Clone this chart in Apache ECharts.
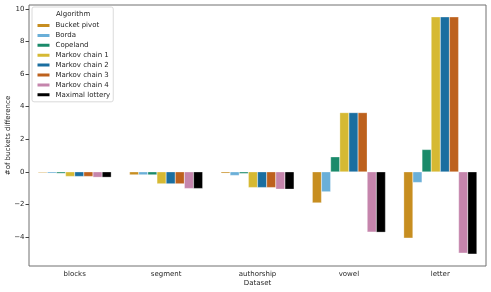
<!DOCTYPE html>
<html><head><meta charset="utf-8">
<script src="https://cdn.jsdelivr.net/npm/echarts@6/dist/echarts.min.js"></script>
<style>html,body{margin:0;padding:0;background:#fff}#c{width:491px;height:292px}</style>
</head><body><div id="c"></div>
<script>
const categories = ['blocks', 'segment', 'authorship', 'vowel', 'letter'];
const seriesNames = ['Bucket pivot', 'Borda', 'Copeland', 'Markov chain 1', 'Markov chain 2', 'Markov chain 3', 'Markov chain 4', 'Maximal lottery'];
const bucketPivot = [-0.05, -0.18, -0.08, -1.9, -4.06];
const borda = [-0.08, -0.18, -0.22, -1.22, -0.65];
const copeland = [-0.09, -0.18, -0.1, 0.92, 1.37];
const markov1 = [-0.28, -0.73, -0.96, 3.63, 9.5];
const markov2 = [-0.28, -0.73, -0.96, 3.63, 9.5];
const markov3 = [-0.28, -0.73, -0.96, 3.63, 9.5];
const markov4 = [-0.33, -1.02, -1.06, -3.69, -4.98];
const maximalLottery = [-0.33, -1.02, -1.06, -3.7, -5.04];
const yTicks = [-4, -2, 0, 2, 4, 6, 8, 10];
const colors = ['#c78e20', '#6aafd8', '#1a8a6a', '#d6b933', '#1a6ea0', '#bd611d', '#c585ac', '#000000'];
const allValues = [bucketPivot, borda, copeland, markov1, markov2, markov3, markov4, maximalLottery];

const font = 'DejaVu Sans';
const txt = '#262626';
const chart = echarts.init(document.getElementById('c'), null, {renderer: 'canvas'});
chart.setOption({
  animation: false,
  color: colors,
  grid: {left: 29, right: 5, top: 5, bottom: 26, containLabel: false, outerBoundsMode: 'none',
    show: true, borderColor: '#707070', borderWidth: 1, backgroundColor: 'transparent'},
  xAxis: {
    type: 'category', data: categories,
    axisLine: {show: false},
    axisTick: {alignWithLabel: true, length: 3.5, lineStyle: {color: '#444'}},
    axisLabel: {fontFamily: font, fontSize: 7, color: txt, margin: 4.5},
    name: 'Dataset', nameLocation: 'middle', nameGap: 13.5, nameMoveOverlap: false,
    nameTextStyle: {fontFamily: font, fontSize: 7, color: txt}
  },
  yAxis: {
    type: 'value', min: -5.77, max: 10.23,
    axisLine: {show: false},
    splitLine: {show: false},
    axisTick: {show: true, length: 3.5, customValues: yTicks, lineStyle: {color: '#444'}},
    axisLabel: {fontFamily: font, fontSize: 7, color: txt, margin: 4.5, customValues: yTicks,
      formatter: v => String(v).replace('-', '\u2212')},
    name: '#of buckets difference', nameLocation: 'middle', nameGap: 17, nameMoveOverlap: false,
    nameTextStyle: {fontFamily: font, fontSize: 7, color: txt}
  },
  legend: {
    orient: 'vertical', left: 32, top: 7,
    data: seriesNames,
    icon: 'rect', itemWidth: 14, itemHeight: 5, itemGap: 1.9,
    padding: [14.5, 3, 3, 3.5],
    backgroundColor: '#fff', borderColor: '#d0d0d0', borderWidth: 0.8, borderRadius: 2,
    textStyle: {fontFamily: font, fontSize: 7, color: txt, lineHeight: 8}
  },
  graphic: [{
    type: 'text', left: 56, top: 10.5, z: 100,
    style: {text: 'Algorithm', fontFamily: font, fontSize: 7, fill: txt}
  }],
  series: seriesNames.map((n, i) => ({
    name: n, type: 'bar', data: allValues[i],
    barWidth: '10%', barGap: '0%', barCategoryGap: '20%',
    itemStyle: {color: colors[i], borderColor: '#fff', borderWidth: 0.3}
  }))
});
</script></body></html>
